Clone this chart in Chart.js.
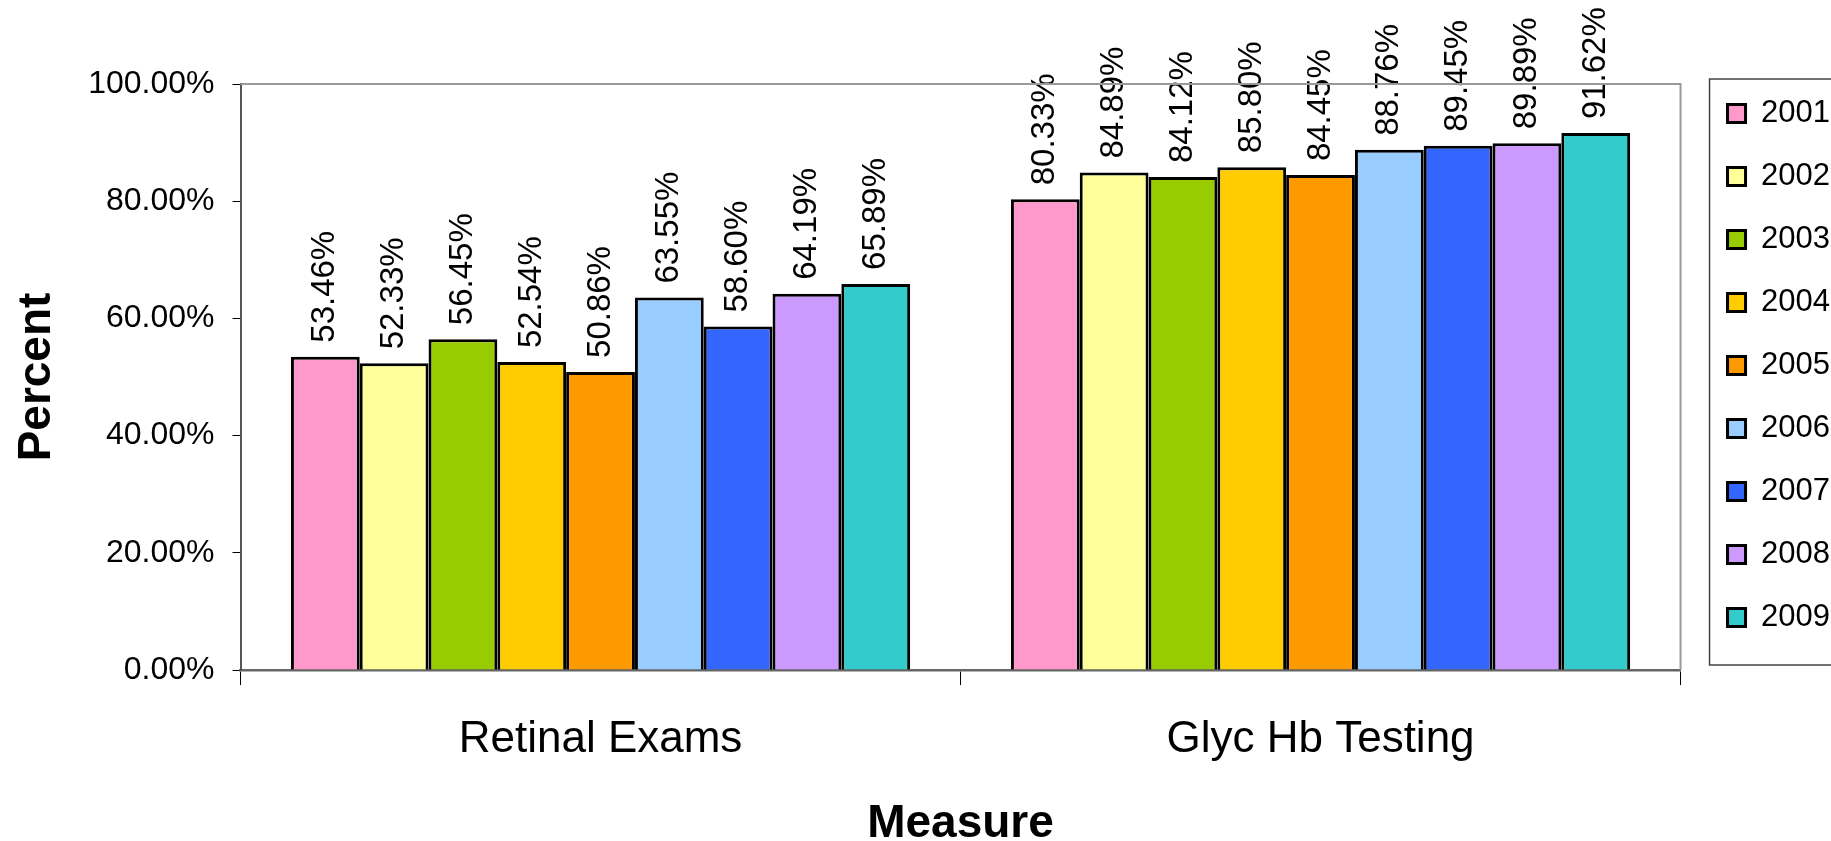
<!DOCTYPE html>
<html>
<head>
<meta charset="utf-8">
<title>Retinal Exams and Glyc Hb Testing</title>
<script src="https://cdn.jsdelivr.net/npm/chart.js@4.4.1/dist/chart.umd.min.js"></script>
<style>
    body { margin: 0; background: #fff; }
    canvas { display: block; }
</style>
</head>
<body>
<canvas id="measureChart" width="1831" height="841"></canvas>
<script>
const categories = ["Retinal Exams", "Glyc Hb Testing"];
const years = ["2001", "2002", "2003", "2004", "2005", "2006", "2007", "2008", "2009"];
const retinalExams = [53.46, 52.33, 56.45, 52.54, 50.86, 63.55, 58.60, 64.19, 65.89];
const glycHbTesting = [80.33, 84.89, 84.12, 85.80, 84.45, 88.76, 89.45, 89.89, 91.62];
const yTicks = [0, 20, 40, 60, 80, 100];

const yearColors = ["#FF99CC", "#FFFF99", "#99CC00", "#FFCC00", "#FF9900",
                    "#99CCFF", "#3366FF", "#CC99FF", "#33CCCC"];

const FONT = "'Liberation Sans', Arial, sans-serif";

// value labels, written sideways above each bar
const valueLabels = {
    id: "valueLabels",
    afterDatasetsDraw(chart) {
        const ctx = chart.ctx;
        ctx.save();
        ctx.font = "33px " + FONT;
        ctx.fillStyle = "#000";
        ctx.textAlign = "left";
        ctx.textBaseline = "middle";
        chart.data.datasets.forEach((ds, i) => {
            chart.getDatasetMeta(i).data.forEach((bar, j) => {
                ctx.save();
                ctx.translate(bar.x, bar.y - 14);
                ctx.rotate(-Math.PI / 2);
                ctx.fillText(ds.data[j].toFixed(2) + "%", 0, 0);
                ctx.restore();
            });
        });
        ctx.restore();
    }
};

// grey frame on the plot area and a box around the legend
const frames = {
    id: "frames",
    afterLayout(chart) {
        // nudge the legend a little right of the plot and up to line up with it
        chart.legend.left += 15;
        chart.legend.right += 15;
        chart.legend.top -= 18;
        chart.legend.bottom -= 18;
    },
    afterDraw(chart) {
        const ctx = chart.ctx;
        const a = chart.chartArea;
        ctx.save();
        ctx.strokeStyle = "#999";
        ctx.lineWidth = 2;
        ctx.beginPath();
        ctx.moveTo(a.left, a.top);
        ctx.lineTo(a.right, a.top);
        ctx.lineTo(a.right, a.bottom);
        ctx.stroke();

        ctx.strokeStyle = "#444";
        ctx.lineWidth = 1.5;
        ctx.strokeRect(chart.legend.left + 14, a.top - 5, 300, a.bottom - a.top);
        ctx.restore();
    }
};

const datasets = years.map((year, i) => ({
    label: year,
    data: [retinalExams[i], glycHbTesting[i]],
    backgroundColor: yearColors[i],
    borderColor: "#000",
    borderWidth: 3,
    categoryPercentage: 0.86,
    barPercentage: 1.0
}));

new Chart(document.getElementById("measureChart"), {
    type: "bar",
    data: { labels: categories, datasets: datasets },
    options: {
        responsive: false,
        animation: false,
        devicePixelRatio: 1,
        layout: { padding: { top: 84, right: 6, bottom: 0, left: 0 } },
        plugins: {
            legend: {
                position: "right",
                align: "start",
                labels: {
                    boxWidth: 18,
                    boxHeight: 18,
                    padding: 32,
                    color: "#000",
                    font: { family: FONT, size: 31 }
                }
            },
            tooltip: { enabled: false }
        },
        scales: {
            x: {
                grid: {
                    offset: true,
                    drawOnChartArea: false,
                    tickLength: 15,
                    color: "#000",
                    lineWidth: 1
                },
                border: { color: "#666", width: 2.5 },
                ticks: {
                    padding: 33,
                    color: "#000",
                    font: { family: FONT, size: 44, lineHeight: 1.0 }
                },
                title: {
                    display: true,
                    text: "Measure",
                    color: "#000",
                    padding: { top: 6, bottom: -6 },
                    font: { family: FONT, size: 46, weight: "bold", lineHeight: 1.0 }
                }
            },
            y: {
                min: 0,
                max: 100,
                afterBuildTicks(scale) {
                    scale.ticks = yTicks.map(v => ({ value: v }));
                },
                grid: {
                    drawOnChartArea: false,
                    tickLength: 8,
                    color: "#000",
                    lineWidth: 1
                },
                border: { color: "#555", width: 2 },
                ticks: {
                    padding: 18,
                    color: "#000",
                    font: { family: FONT, size: 32 },
                    callback: v => v.toFixed(2) + "%"
                },
                title: {
                    display: true,
                    text: "Percent",
                    color: "#000",
                    padding: { top: 10, bottom: 5 },
                    font: { family: FONT, size: 46, weight: "bold", lineHeight: 1.2 }
                }
            }
        }
    },
    plugins: [valueLabels, frames]
});
</script>
</body>
</html>
